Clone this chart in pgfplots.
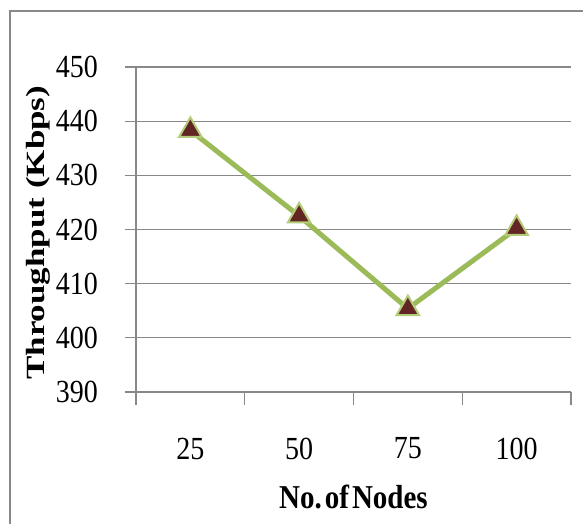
\documentclass[border=0pt]{standalone}
\usepackage{fontspec}
\setmainfont{Liberation Serif}
\usepackage{pgfplots}
\pgfplotsset{compat=1.18}
\definecolor{lgreen}{HTML}{9BBB59}
\definecolor{mgreen}{HTML}{B3CC7A}
\definecolor{maroon}{HTML}{632523}
\definecolor{gridgray}{HTML}{888888}
\begin{document}
\begin{tikzpicture}
\useasboundingbox (-136pt,-131pt) rectangle (447pt,392pt);
\draw[gridgray, line width=2.5pt] (-126pt,-140pt) -- (-126pt,381pt) -- (460pt,381pt);
\begin{axis}[
  at={(0pt,0pt)}, anchor=south west,
  scale only axis, width=435pt, height=325pt,
  xmin=-0.5, xmax=3.5, ymin=390, ymax=450,
  axis lines*=left,
  axis line style={gridgray, line width=1.2pt},
  xtick={0,1,2,3}, xticklabels={25,50,75,100},
  minor xtick={-0.5,0.5,1.5,2.5,3.5},
  major x tick style={draw=none},
  minor x tick style={gridgray, line width=1.2pt},
  minor tick length=13pt,
  ytick={390,400,...,450},
  major tick length=11pt,
  tick align=outside,
  tick style={gridgray, line width=1.2pt},
  ymajorgrids,
  grid style={gridgray, line width=1.2pt},
  /pgf/number format/assume math mode=true,
  ticklabel style={font=\fontsize{28}{28}\selectfont, yscale=1.15},
  yticklabel style={inner sep=0pt, anchor=east, xshift=-27pt},
  xticklabel style={inner sep=0pt, anchor=north, yshift=-30pt},
  xlabel={\bfseries No.\hspace{3pt}of\hspace{3pt}Nodes},
  xlabel style={font=\fontsize{29}{29}\selectfont, yscale=1.15, at={(axis description cs:0.5,-0.323)}, anchor=center},
  ylabel={\scalebox{1}[0.75]{\bfseries Throughput (Kbps)}},
  ylabel style={font=\fontsize{35}{35}\selectfont, at={(axis description cs:-0.225,0.49)}, anchor=center},
  clip=false,
]
\addplot[lgreen, line width=5pt, mark=triangle*, mark size=13pt,
  mark options={fill=maroon, draw=mgreen, line width=2pt}]
  coordinates {(0,438.3) (1,422.5) (2,405.4) (3,420.2)};
\end{axis}
\end{tikzpicture}
\end{document}
